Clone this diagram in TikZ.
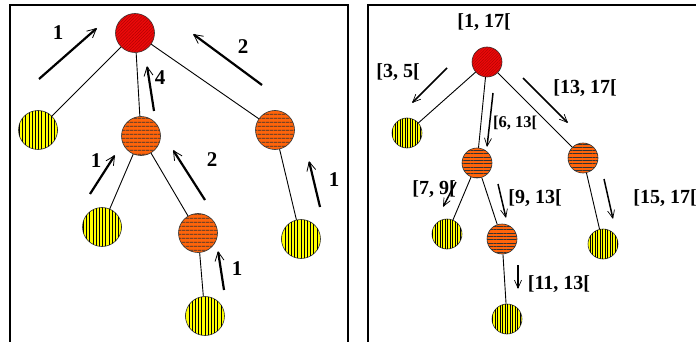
\documentclass[tikz,border=0pt]{standalone}
\usepackage{fontspec}
\setmainfont{Liberation Serif}
\usetikzlibrary{arrows.meta,patterns.meta}
\definecolor{myred}{RGB}{235,10,10}
\definecolor{myorange}{RGB}{255,100,10}
\definecolor{myyellow}{RGB}{255,255,0}
\tikzset{
  nd/.style={circle,draw=black!80,line width=0.6pt,inner sep=0pt},
  rootL/.style={nd,minimum size=39pt,fill=myred,postaction={pattern={Lines[angle=45,distance=2.2pt,line width=0.35pt]},pattern color=red!65!black}},
  orgL/.style={nd,minimum size=39pt,fill=myorange,postaction={pattern={Lines[angle=0,distance=4pt,line width=0.9pt]},pattern color=black!80}},
  yelL/.style={nd,minimum size=39pt,fill=myyellow,postaction={pattern={Lines[angle=90,distance=3.2pt,line width=0.5pt]},pattern color=black}},
  rootR/.style={nd,minimum size=30pt,fill=myred,postaction={pattern={Lines[angle=45,distance=2pt,line width=0.35pt]},pattern color=red!65!black}},
  orgR/.style={nd,minimum size=30pt,fill=myorange,postaction={pattern={Lines[angle=0,distance=3.3pt,line width=0.8pt]},pattern color=black!80}},
  yelR/.style={nd,minimum size=30pt,fill=myyellow,postaction={pattern={Lines[angle=90,distance=2.5pt,line width=0.45pt]},pattern color=black}},
  edge/.style={line width=0.9pt},
  bigarr/.style={line width=2.2pt,-{Straight Barb[length=9pt,width=9pt,line width=0.8pt]}},
  smallarr/.style={line width=1.5pt,-{Straight Barb[length=8pt,width=7pt,line width=0.7pt]}},
  lblL/.style={font=\fontsize{21}{21}\selectfont\bfseries,inner sep=0pt},
  lblR/.style={font=\fontsize{20}{20}\selectfont\bfseries,inner sep=0pt},
  frame/.style={line width=2pt}
}
\begin{document}
\begin{tikzpicture}[x=1pt,y=-1pt]
\useasboundingbox (0,0) rectangle (696,342);
% frames
\draw[frame] (10,345) -- (10,5) -- (348,5) -- (348,345);
\draw[frame] (368,345) -- (368,5) -- (700,5);

% ---------- left tree ----------
\node[rootL] (a) at (135,33) {};
\node[yelL] (b) at (38,130) {};
\node[orgL] (c) at (141,136) {};
\node[orgL] (d) at (275,130) {};
\node[yelL] (e) at (102,227) {};
\node[orgL] (f) at (198,233) {};
\node[yelL] (g) at (301,239) {};
\node[yelL] (h) at (205,316) {};
\draw[edge] (a) -- (b);
\draw[edge] (a) -- (c);
\draw[edge] (a) -- (d);
\draw[edge] (c) -- (e);
\draw[edge] (c) -- (f);
\draw[edge] (d) -- (g);
\draw[edge] (f) -- (h);

\coordinate (l1s) at (39,79);  \coordinate (l1e) at (97,28);
\coordinate (l2s) at (262,85); \coordinate (l2e) at (193,34);
\coordinate (l3s) at (154,111); \coordinate (l3e) at (147,66);
\coordinate (l4s) at (90,194); \coordinate (l4e) at (115,155);
\coordinate (l5s) at (205,200); \coordinate (l5e) at (173,150);
\coordinate (l6s) at (320,207); \coordinate (l6e) at (309,161);
\coordinate (l7s) at (224,290); \coordinate (l7e) at (218,251);
\draw[bigarr] (l1s) -- (l1e);
\draw[bigarr] (l2s) -- (l2e);
\draw[bigarr] (l3s) -- (l3e);
\draw[bigarr] (l4s) -- (l4e);
\draw[bigarr] (l5s) -- (l5e);
\draw[bigarr] (l6s) -- (l6e);
\draw[bigarr] (l7s) -- (l7e);
\node[lblL] (t1) at (58,33) {1};
\node[lblL] (t2) at (243,47) {2};
\node[lblL] (t3) at (160,78) {4};
\node[lblL] (t4) at (96,161) {1};
\node[lblL] (t5) at (212,160) {2};
\node[lblL] (t6) at (334,180) {1};
\node[lblL] (t7) at (237,269) {1};

% ---------- right tree ----------
\node[rootR] (A) at (487,62) {};
\node[yelR] (B) at (407,133) {};
\node[orgR] (C) at (477,163) {};
\node[orgR] (D) at (583,158) {};
\node[yelR] (E) at (447,234) {};
\node[orgR] (F) at (502,239) {};
\node[yelR] (G) at (603,244) {};
\node[yelR] (H) at (507,319) {};
\draw[edge] (A) -- (B);
\draw[edge] (A) -- (C);
\draw[edge] (A) -- (D);
\draw[edge] (C) -- (E);
\draw[edge] (C) -- (F);
\draw[edge] (D) -- (G);
\draw[edge] (F) -- (H);

\coordinate (r1s) at (447,68);  \coordinate (r1e) at (412,103);
\coordinate (r2s) at (523,78);  \coordinate (r2e) at (568,123);
\coordinate (r3s) at (493,93);  \coordinate (r3e) at (487,147);
\coordinate (r4s) at (456,182); \coordinate (r4e) at (443,207);
\coordinate (r5s) at (498,184); \coordinate (r5e) at (506,218);
\coordinate (r6s) at (604,179); \coordinate (r6e) at (613,219);
\coordinate (r7s) at (518,265); \coordinate (r7e) at (518,289);
\draw[smallarr] (r1s) -- (r1e);
\draw[smallarr] (r2s) -- (r2e);
\draw[smallarr] (r3s) -- (r3e);
\draw[smallarr] (r4s) -- (r4e);
\draw[smallarr] (r5s) -- (r5e);
\draw[smallarr] (r6s) -- (r6e);
\draw[smallarr] (r7s) -- (r7e);
\node[lblR] (u0) at (484,22) {[1, 17[};
\node[lblR] (u1) at (398,72) {[3, 5[};
\node[lblR] (u2) at (585,88) {[13, 17[};
\node[lblR,font=\fontsize{16.5}{16.5}\selectfont\bfseries] (u3) at (515,123) {[6, 13[};
\node[lblR] (u4) at (434,189) {[7, 9[};
\node[lblR] (u5) at (535,198) {[9, 13[};
\node[lblR] (u6) at (665,198) {[15, 17[};
\node[lblR] (u7) at (559,284) {[11, 13[};
\end{tikzpicture}
\end{document}
